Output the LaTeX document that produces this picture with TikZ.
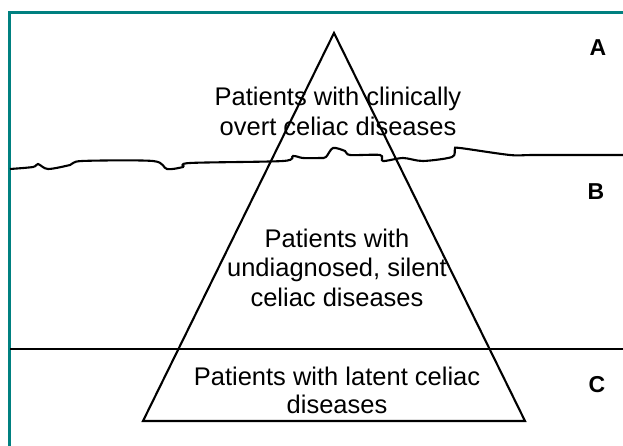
\documentclass[tikz,border=0pt]{standalone}
\usepackage{fontspec}
\setmainfont{Liberation Sans}
\usepackage{tikz}
\usetikzlibrary{calc}
\definecolor{frameteal}{HTML}{008080}

\begin{document}
\begin{tikzpicture}[x=1pt,y=-1pt,line width=2.1pt]
\useasboundingbox (0,0) rectangle (623,446);
\draw[frameteal,line width=3pt] (9,446) -- (9,13) -- (623,13);
\coordinate (apex) at (334,33);
\coordinate (baseL) at (143,421);
\coordinate (baseR) at (525,421);
\draw[line join=miter] (apex) -- (baseR) -- (baseL) -- cycle;
\coordinate (latL) at (10,349);
\coordinate (latR) at (623,349);
\draw (latL) -- (latR);
% surface line
\draw plot[smooth,tension=0.5] coordinates {(10,169) (33,167) (38,164) (48,169) (70,165) (82,161) (153,161) (167,169) (183,167) (190,163) (283,161) (293,156) (303,158) (320,158) (326,157) (333,148) (345,151) (350,155) (380,155) (383,161) (403,158) (423,161) (452,157) (455,149) (460,148) (510,155) (535,155) (623,155)};
\node[font=\fontsize{25.5}{30}\selectfont,align=center,inner sep=0] (overt) at (338,111) {Patients with clinically\\overt celiac diseases};
\node[font=\fontsize{25.5}{29.5}\selectfont,align=center,inner sep=0] (silent) at (337,267.5) {Patients with\\undiagnosed, silent\\celiac diseases};
\node[font=\fontsize{25.5}{28}\selectfont,align=center,inner sep=0] (latent) at (337,390) {Patients with latent celiac\\diseases};
\node[font=\fontsize{23}{27}\selectfont\bfseries] (zoneA) at (598,48) {A};
\node[font=\fontsize{23}{27}\selectfont\bfseries] (zoneB) at (596,192) {B};
\node[font=\fontsize{23}{27}\selectfont\bfseries] (zoneC) at (597,385) {C};
\end{tikzpicture}
\end{document}
